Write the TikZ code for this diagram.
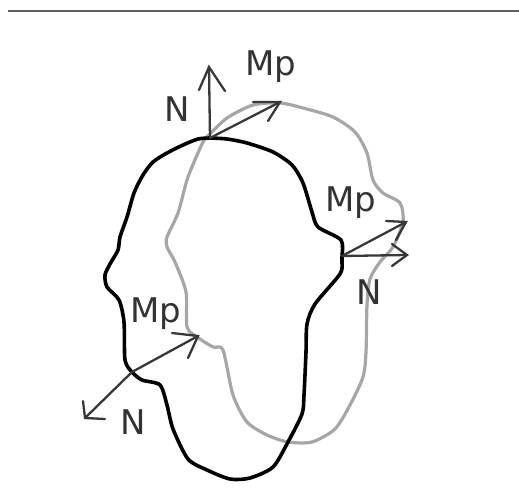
\documentclass[tikz,border=0pt]{standalone}
\usepackage{fontspec}
\setmainfont{DejaVu Sans}
\tikzset{
  x=1pt,y=-1pt,
  outlineA/.style={draw=black,line width=3.6pt,line join=round,line cap=round},
  outlineB/.style={draw=black!35,line width=3.2pt,line join=round,line cap=round},
  vec/.style={draw=black!78,line width=2.3pt,line cap=round,line join=miter},
  lab/.style={anchor=base west,inner sep=0pt,text=black!80,font=\fontsize{34}{34}\selectfont},
  rule/.style={draw=black!62,line width=2pt}
}
\begin{document}
\begin{tikzpicture}
\useasboundingbox (0,0) rectangle (519,502);
\coordinate (ruleL) at (8,11);
\coordinate (ruleR) at (519,11);
\draw[rule] (ruleL) -- (ruleR);
% grey outline
\draw[outlineB] plot[smooth,tension=0.45] coordinates {(210,134) (227,118) (253,105) (280,103) (303,108) (333,117) (355,132) (367,153) (373,180) (383,193) (400,203) (403,222) (393,247) (380,262) (370,279) (367,305) (366,352) (363,377) (350,405) (335,429) (312,442) (288,442) (267,435) (247,422) (233,395) (223,350) (213,347) (197,337) (187,327) (186,292) (175,262) (167,247) (167,237) (178,213) (188,177) (203,142) (210,134)};
% black outline
\draw[outlineA] plot[smooth,tension=0.45] coordinates {(210,138) (227,139) (247,143) (273,152) (292,165) (303,183) (312,212) (318,227) (341,240) (342,257) (342,262) (340,274) (315,304) (307,324) (306,352) (304,395) (302,414) (288,442) (273,467) (250,478) (230,479) (207,470) (188,459) (173,429) (167,405) (160,385) (142,380) (132,372) (125,360) (124,322) (119,300) (107,287) (105,275) (110,264) (118,250) (120,237) (127,217) (134,193) (143,175) (153,162) (167,153) (183,145) (198,139) (210,138)};
% arrows
\coordinate (t0) at (210,138);
\coordinate (tN) at (209,67);
\coordinate (tM) at (280,102);
\coordinate (tNa) at (199,90);
\coordinate (tNb) at (225,91);
\coordinate (tMa) at (253,102);
\coordinate (tMb) at (268,121);
\draw[vec] (t0) -- (tN);
\draw[vec] (tNa) -- (tN) -- (tNb);
\draw[vec] (t0) -- (tM);
\draw[vec] (tMa) -- (tM) -- (tMb);
\coordinate (r0) at (342,256);
\coordinate (rN) at (407,255);
\coordinate (rM) at (406,222);
\coordinate (rNa) at (392,244);
\coordinate (rNb) at (392,266);
\coordinate (rMa) at (386,221);
\coordinate (rMb) at (396,240);
\draw[vec] (r0) -- (rN);
\draw[vec] (rNa) -- (rN) -- (rNb);
\draw[vec] (r0) -- (rM);
\draw[vec] (rMa) -- (rM) -- (rMb);
\coordinate (l0) at (132,372);
\coordinate (lN) at (85,418);
\coordinate (lM) at (198,336);
\coordinate (lNa) at (83,401);
\coordinate (lNb) at (105,419);
\coordinate (lMa) at (172,333);
\coordinate (lMb) at (188,358);
\draw[vec] (l0) -- (lN);
\draw[vec] (lNa) -- (lN) -- (lNb);
\draw[vec] (l0) -- (lM);
\draw[vec] (lMa) -- (lM) -- (lMb);
% labels
\node[lab] (mpTop) at (245,76) {Mp};
\node[lab] (nTop) at (164,122) {N};
\node[lab] (mpRight) at (325,212) {Mp};
\node[lab] (nRight) at (356,305) {N};
\node[lab] (mpLeft) at (130,323) {Mp};
\node[lab] (nLeft) at (120,434) {N};
\end{tikzpicture}
\end{document}
